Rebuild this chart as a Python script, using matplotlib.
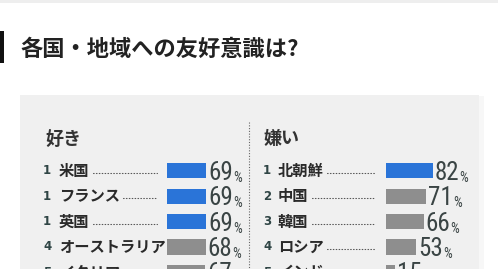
import matplotlib
matplotlib.use("Agg")
import matplotlib.pyplot as plt
from matplotlib import font_manager
from matplotlib.patches import Rectangle

# ---- data ----
title = "各国・地域への友好意識は?"
like_header = "好き"
dislike_header = "嫌い"
like_ranks = [1, 1, 1, 4, 5]
like_names = ["米国", "フランス", "英国", "オーストラリア", "イタリア"]
like_values = [69, 69, 69, 68, 67]
dislike_ranks = [1, 2, 3, 4, 5]
dislike_names = ["北朝鮮", "中国", "韓国", "ロシア", "インド"]
dislike_values = [82, 71, 66, 53, 15]

W, H = 498, 269
DPI = 100
names_avail = {f.name for f in font_manager.fontManager.ttflist}
NUMFONT = [f for f in ["Liberation Sans Narrow", "Roboto Condensed", "Archivo Narrow",
                       "Arimo", "Liberation Sans"] if f in names_avail][:1] or ["DejaVu Sans"]
JP = ["Noto Sans CJK JP", "DejaVu Sans"]

fig = plt.figure(figsize=(W / DPI, H / DPI), dpi=DPI, facecolor="white")
ax = fig.add_axes([0, 0, 1, 1])
ax.set_xlim(0, W)
ax.set_ylim(H, 0)
ax.axis("off")

# top faint strip
ax.add_patch(Rectangle((0, 0), W, 2.5, color="#eeeeee", lw=0))
# title marker + title
ax.add_patch(Rectangle((0, 31), 4, 32, color="#111111", lw=0))
ax.text(20, 49, title, fontsize=16, fontweight="bold", family=JP, color="#222222",
        va="center", ha="left")

# panel
ax.add_patch(Rectangle((479, 96), 5, H, color="#f7f7f7", lw=0))
ax.add_patch(Rectangle((20, 95), 459, H, color="#f0f0f0", lw=0))
# divider
ax.plot([249, 249], [122, H], color="#666666", lw=0.8, ls=(0, (1, 1.5)))

ROW0, STEP = 170.8, 25.4
PX_PER_100 = 57.0
BLUE, GRAY = "#2a74d8", "#8e8e8e"


def panel(x_head, x_rank, x_name, x_dots_end, x_bar0, header, ranks, names, values):
    ax.text(x_head, 139, header, fontsize=13, fontweight="bold", family=JP,
            color="#333333", va="center", ha="left")
    # bar axes: x in percent, y in row index
    bax = fig.add_axes([x_bar0 / W, 0, PX_PER_100 / W, 1])
    bax.set_xlim(0, 100)
    bax.set_ylim((H - ROW0) / STEP, -ROW0 / STEP)
    bax.axis("off")
    bax.patch.set_alpha(0)
    fig.canvas.draw()
    r = fig.canvas.get_renderer()
    for i, (rk, nm, v) in enumerate(zip(ranks, names, values)):
        y = ROW0 + i * STEP
        ax.text(x_rank, y, str(rk), fontsize=8.5, fontweight="bold", family=["DejaVu Sans"],
                color="#2f4545", va="center", ha="left")
        t = ax.text(x_name, y, nm, fontsize=11, fontweight="bold", family=JP,
                    color="#2a2a2a", va="center", ha="left")
        bb = t.get_window_extent(renderer=r)
        x_end = bb.x1
        if x_end + 4 < x_dots_end:
            ax.plot([x_end + 3, x_dots_end], [y + 2, y + 2], color="#555555", lw=0.8,
                    ls=(0, (0.6, 2.0)), dash_capstyle="round")
        col = BLUE if rk == 1 else GRAY
        bax.barh(i, v, height=0.6, color=col, lw=0)
        num = bax.annotate(str(v), xy=(v, i), xytext=(2, -9), textcoords="offset pixels",
                           fontsize=18, family=NUMFONT, color="#3a4444",
                           va="baseline", ha="left", annotation_clip=False)
        bax.annotate("%", xy=(1, 0), xycoords=num, xytext=(0, 0), textcoords="offset pixels",
                     fontsize=10, family=NUMFONT, color="#3a4444", va="bottom", ha="left",
                     annotation_clip=False)


panel(45, 43, 59, 157, 167, like_header, like_ranks, like_names, like_values)
panel(263, 263, 278, 375, 386, dislike_header, dislike_ranks, dislike_names, dislike_values)

fig.savefig("out.png", dpi=DPI, facecolor="white")
